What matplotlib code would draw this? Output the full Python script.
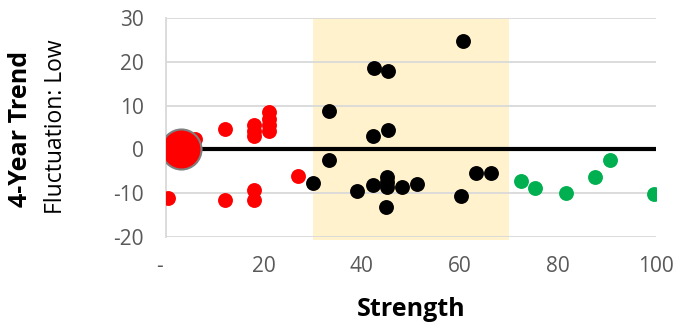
import matplotlib.pyplot as plt

# values
red_x = [0.5, 6, 12, 12, 18, 18, 18, 18, 18, 21, 21, 21, 21, 27]
red_y = [-11, 2.4, 4.6, -11.5, 5.5, 4.2, 3.0, -9.2, -11.5, 8.5, 7.0, 5.5, 4.2, -6.1]
black_x = [30, 33.3, 33.3, 39, 42.2, 42.2, 42.4, 45.4, 45.3, 45.2, 45.2, 45.2, 45, 48.2, 51.3,
           60.6, 60.3, 63.3, 66.4]
black_y = [-7.6, 8.8, -2.4, -9.5, -8.1, 3.0, 18.5, 17.8, 4.5, -6.3, -7.5, -8.6, -13.2, -8.6, -7.9,
           24.7, -10.6, -5.3, -5.3]
green_x = [72.4, 75.4, 81.6, 87.6, 90.6, 99.7]
green_y = [-7.3, -8.8, -10.0, -6.3, -2.5, -10.1]
focus_x = [3]
focus_y = [0]
band = (30, 70)
trend_line_x = [3, 100]
trend_line_y = [0, 0]
y_ticks = [-20, -10, 0, 10, 20, 30]
x_ticks = [0, 20, 40, 60, 80, 100]
x_labels = ['-  ', '20', '40', '60', '80', '100']

plt.rcParams['font.family'] = ['Open Sans', 'DejaVu Sans']
plt.rcParams['axes.unicode_minus'] = False

fig = plt.figure(figsize=(6.76, 3.27), dpi=100)
ax = fig.add_axes([0.2456, 0.2752, 0.7244, 0.6698])

ax.axvspan(band[0], band[1], ymin=-0.012, ymax=1, color='#FFF2CC', zorder=0.5, lw=0, clip_on=False)
for yv in y_ticks:
    ax.axhline(yv, color='#D9D9D9', lw=1.3, zorder=1)

ax.plot(trend_line_x, trend_line_y, color='black', lw=3, zorder=2, solid_capstyle='butt')

ax.scatter(red_x, red_y, s=115, color='#FF0000', lw=0, zorder=3)
ax.scatter(black_x, black_y, s=115, color='black', lw=0, zorder=3)
ax.scatter(green_x, green_y, s=115, color='#00B050', lw=0, zorder=3)
ax.scatter(focus_x, focus_y, s=830, color='#FF0000', edgecolor='#7F7F7F', lw=1.5, zorder=4)

ax.set_xlim(0, 100)
ax.set_ylim(-20, 30)
ax.set_xticks(x_ticks)
ax.set_xticklabels(x_labels)
ax.set_yticks(y_ticks)
ax.tick_params(length=0, labelsize=15, colors='#595959')
ax.tick_params(axis='x', pad=14)
ax.tick_params(axis='y', pad=16)

for side in ['top', 'right', 'bottom']:
    ax.spines[side].set_visible(False)
ax.spines['left'].set_color('#D9D9D9')
ax.spines['left'].set_linewidth(1.3)

ax.set_xlabel('Strength', fontsize=18, fontweight='bold', labelpad=14)
fig.text(0.031, 0.606, '4-Year Trend', rotation=90, fontsize=18, fontweight='bold',
         ha='center', va='center')
fig.text(0.083, 0.613, 'Fluctuation: Low', rotation=90, fontsize=16.5,
         ha='center', va='center')

fig.savefig('out.png', dpi=100)
